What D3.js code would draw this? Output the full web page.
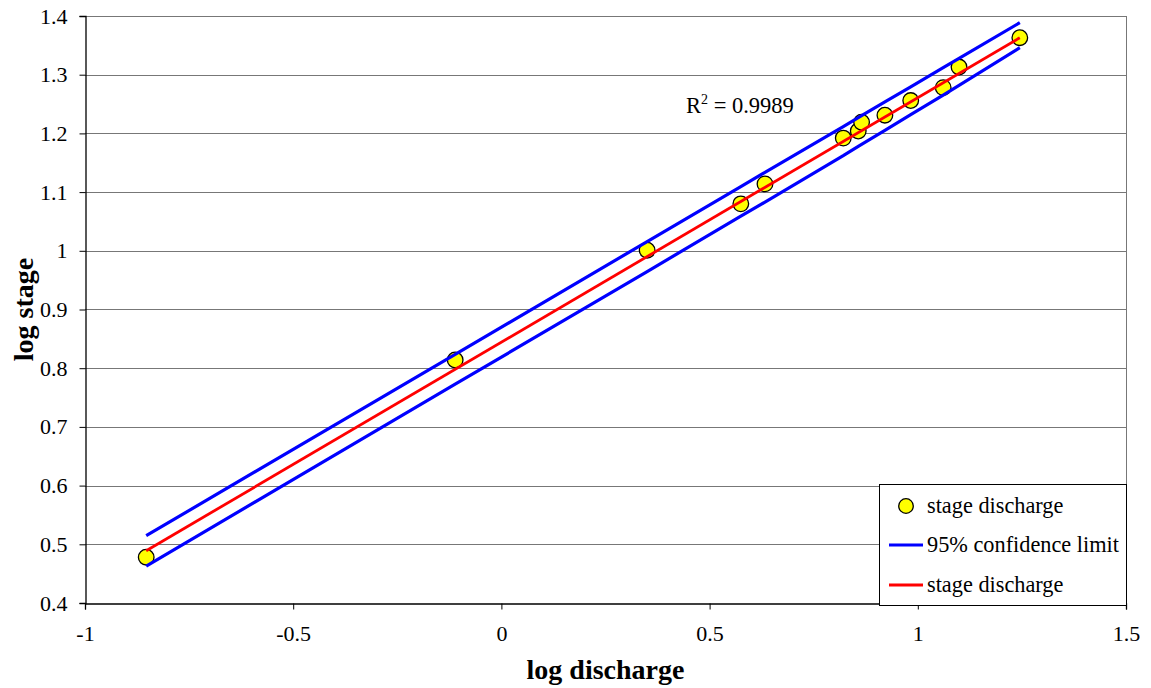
<!DOCTYPE html>
<html><head><meta charset="utf-8">
<script src="https://cdn.jsdelivr.net/npm/d3@7"></script>
<style>body{margin:0;background:#fff}svg{display:block}svg text{font-family:'Liberation Serif','Times New Roman',serif !important}</style>
</head><body>
<svg id="chart" width="1151" height="688" font-family="Liberation Serif"></svg>
<script>
// Observed data (log discharge, log stage)
const logDischarge = [-0.853, -0.111, 0.35, 0.575, 0.633, 0.821, 0.857, 0.865, 0.921, 0.983, 1.061, 1.099, 1.245];
const logStage     = [0.478, 0.814, 1.001, 1.080, 1.114, 1.192, 1.204, 1.219, 1.231, 1.256, 1.278, 1.313, 1.363];
// Fitted line
const fitX = [-0.853, 1.245];
const fitY = [0.489, 1.363];
// 95% confidence limits at the data x positions
const upperY = [0.5147, 0.8237, 1.0157, 1.1094, 1.1336, 1.2115, 1.2269, 1.2303, 1.2536, 1.2794, 1.3119, 1.3277, 1.3886];
const lowerY = [0.4630, 0.7727, 0.9647, 1.0589, 1.0831, 1.1620, 1.1779, 1.1813, 1.2051, 1.2319, 1.2654, 1.2817, 1.3460];
const xTicks = [-1, -0.5, 0, 0.5, 1, 1.5];
const yTicks = [0.4, 0.5, 0.6, 0.7, 0.8, 0.9, 1.0, 1.1, 1.2, 1.3, 1.4];
const rSquared = "0.9989";
const legendLabels = ["stage discharge", "95% confidence limit", "stage discharge"];

const FONT = "'Liberation Serif', 'Times New Roman', serif";
const svg = d3.select("#chart");
const L = 85, R = 1126, T = 16, B = 603;
const x = d3.scaleLinear().domain([-1, 1.5]).range([L, R]);
const y = d3.scaleLinear().domain([0.4, 1.4]).range([B, T]);

// gridlines
svg.append("g").selectAll("line").data(yTicks.filter(d => d > 0.4)).join("line")
  .attr("x1", L).attr("x2", R).attr("y1", d => Math.round(y(d)) + 0.5).attr("y2", d => Math.round(y(d)) + 0.5)
  .attr("stroke", "#777").attr("stroke-width", 1);
// right border
svg.append("line").attr("x1", R + 0.5).attr("x2", R + 0.5).attr("y1", T).attr("y2", B)
  .attr("stroke", "#777");

// axes
const xAxis = d3.axisBottom(x).tickValues(xTicks).tickSize(6).tickPadding(16).tickFormat(d => String(d));
const gx = svg.append("g").attr("transform", `translate(0,${B + 0.5})`).call(xAxis);
const yAxis = d3.axisLeft(y).tickValues(yTicks).tickSize(6).tickPadding(12).tickFormat(d => String(+d.toFixed(1)));
const gy = svg.append("g").attr("transform", `translate(${L + 0.5},0)`).call(yAxis);
[gx, gy].forEach(g => {
  g.attr("font-family", FONT).attr("font-size", 22);
  g.select(".domain").attr("stroke", "#000").attr("stroke-width", 1.3);
  g.selectAll(".tick line").attr("stroke", "#000");
  g.selectAll(".tick text").attr("fill", "#000").attr("font-family", FONT).attr("font-size", 22);
});
gx.selectAll(".tick text").attr("dy", "0.71em");

// markers
svg.append("g").selectAll("circle").data(logDischarge.map((d, i) => [d, logStage[i]])).join("circle")
  .attr("cx", d => x(d[0])).attr("cy", d => y(d[1])).attr("r", 7.8)
  .attr("fill", "#ffff00").attr("stroke", "#000").attr("stroke-width", 1.3);

// confidence limits
const line = d3.line().x(d => x(d[0])).y(d => y(d[1]));
[upperY, lowerY].forEach(arr => {
  svg.append("path").datum(logDischarge.map((d, i) => [d, arr[i]]))
    .attr("d", line).attr("fill", "none").attr("stroke", "#0000ff").attr("stroke-width", 3.2);
});
// fit
svg.append("path").datum(fitX.map((d, i) => [d, fitY[i]]))
  .attr("d", line).attr("fill", "none").attr("stroke", "#ff0000").attr("stroke-width", 2.8);

// R² label
const rt = svg.append("text").attr("x", 686).attr("y", 113).attr("font-family", FONT).attr("font-size", 22.5).attr("fill", "#000");
rt.append("tspan").text("R");
rt.append("tspan").attr("dy", -9).attr("font-size", 14).text("2");
rt.append("tspan").attr("dy", 9).text(" = " + rSquared);

// axis titles
svg.append("text").attr("x", (L + R) / 2).attr("y", 679).attr("text-anchor", "middle").attr("font-family", FONT)
  .attr("font-size", 28).attr("font-weight", "bold").text("log discharge");
svg.append("text").attr("transform", `translate(33,${(T + B) / 2}) rotate(-90)`).attr("text-anchor", "middle").attr("font-family", FONT)
  .attr("font-size", 28).attr("font-weight", "bold").text("log stage");

// legend
const lg = svg.append("g");
lg.append("rect").attr("x", 879.5).attr("y", 484.5).attr("width", 247).attr("height", 121)
  .attr("fill", "#fff").attr("stroke", "#000").attr("stroke-width", 1);
const rows = [506, 545, 585];
lg.append("circle").attr("cx", 906).attr("cy", rows[0]).attr("r", 7.3)
  .attr("fill", "#ffff00").attr("stroke", "#000").attr("stroke-width", 1.3);
lg.append("line").attr("x1", 889).attr("x2", 923).attr("y1", rows[1]).attr("y2", rows[1]).attr("stroke", "#0000ff").attr("stroke-width", 3);
lg.append("line").attr("x1", 889).attr("x2", 923).attr("y1", rows[2]).attr("y2", rows[2]).attr("stroke", "#ff0000").attr("stroke-width", 3);
legendLabels.forEach((t, i) => {
  lg.append("text").attr("x", 927).attr("y", rows[i] + 7).attr("font-family", FONT).attr("font-size", 22.3).attr("fill", "#000").text(t);
});
</script>
</body></html>
